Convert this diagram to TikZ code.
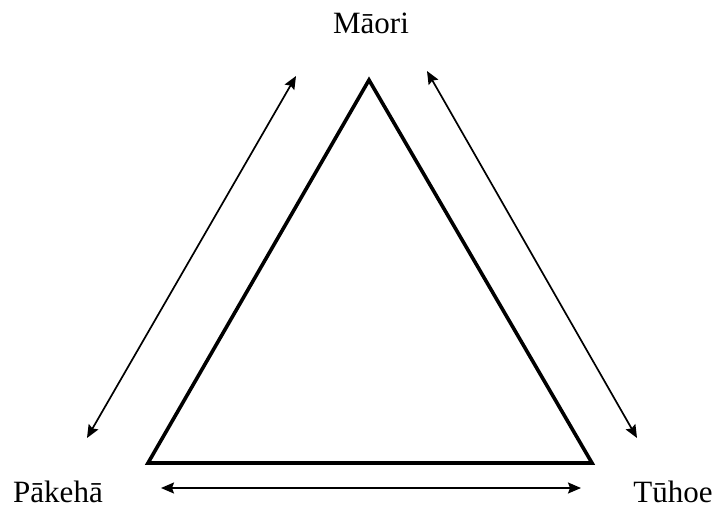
\documentclass[tikz,border=0pt]{standalone}
\usepackage{fontspec}
\setmainfont{Liberation Serif}
\usetikzlibrary{arrows.meta}
\begin{document}
\begin{tikzpicture}[x=1pt,y=-1pt,
  lbl/.style={anchor=base,inner sep=0pt,font=\fontsize{31}{34}\selectfont},
  tri/.style={line width=3.6pt,line join=miter},
  hd/.tip={Stealth[length=13pt,width=11pt,inset=2pt]},
  rel/.style={line width=1.7pt,hd-hd}]
\useasboundingbox (0,0) rectangle (715,520);
\node[lbl] (maori) at (371,33) {Māori};
\node[lbl] (pakeha) at (58,502) {Pākehā};
\node[lbl] (tuhoe) at (673,502) {Tūhoe};
\coordinate (top) at (369,80);
\coordinate (bl) at (148,463);
\coordinate (br) at (592,463);
\draw[tri] (top) -- (bl) -- (br) -- cycle;
\coordinate (l1) at (87,438);
\coordinate (l2) at (296,76);
\coordinate (r1) at (427,71);
\coordinate (r2) at (637,438);
\coordinate (b1) at (161,488);
\coordinate (b2) at (581,488);
\draw[rel] (l1) -- (l2);
\draw[rel] (r1) -- (r2);
\draw[rel] (b1) -- (b2);
\end{tikzpicture}
\end{document}
